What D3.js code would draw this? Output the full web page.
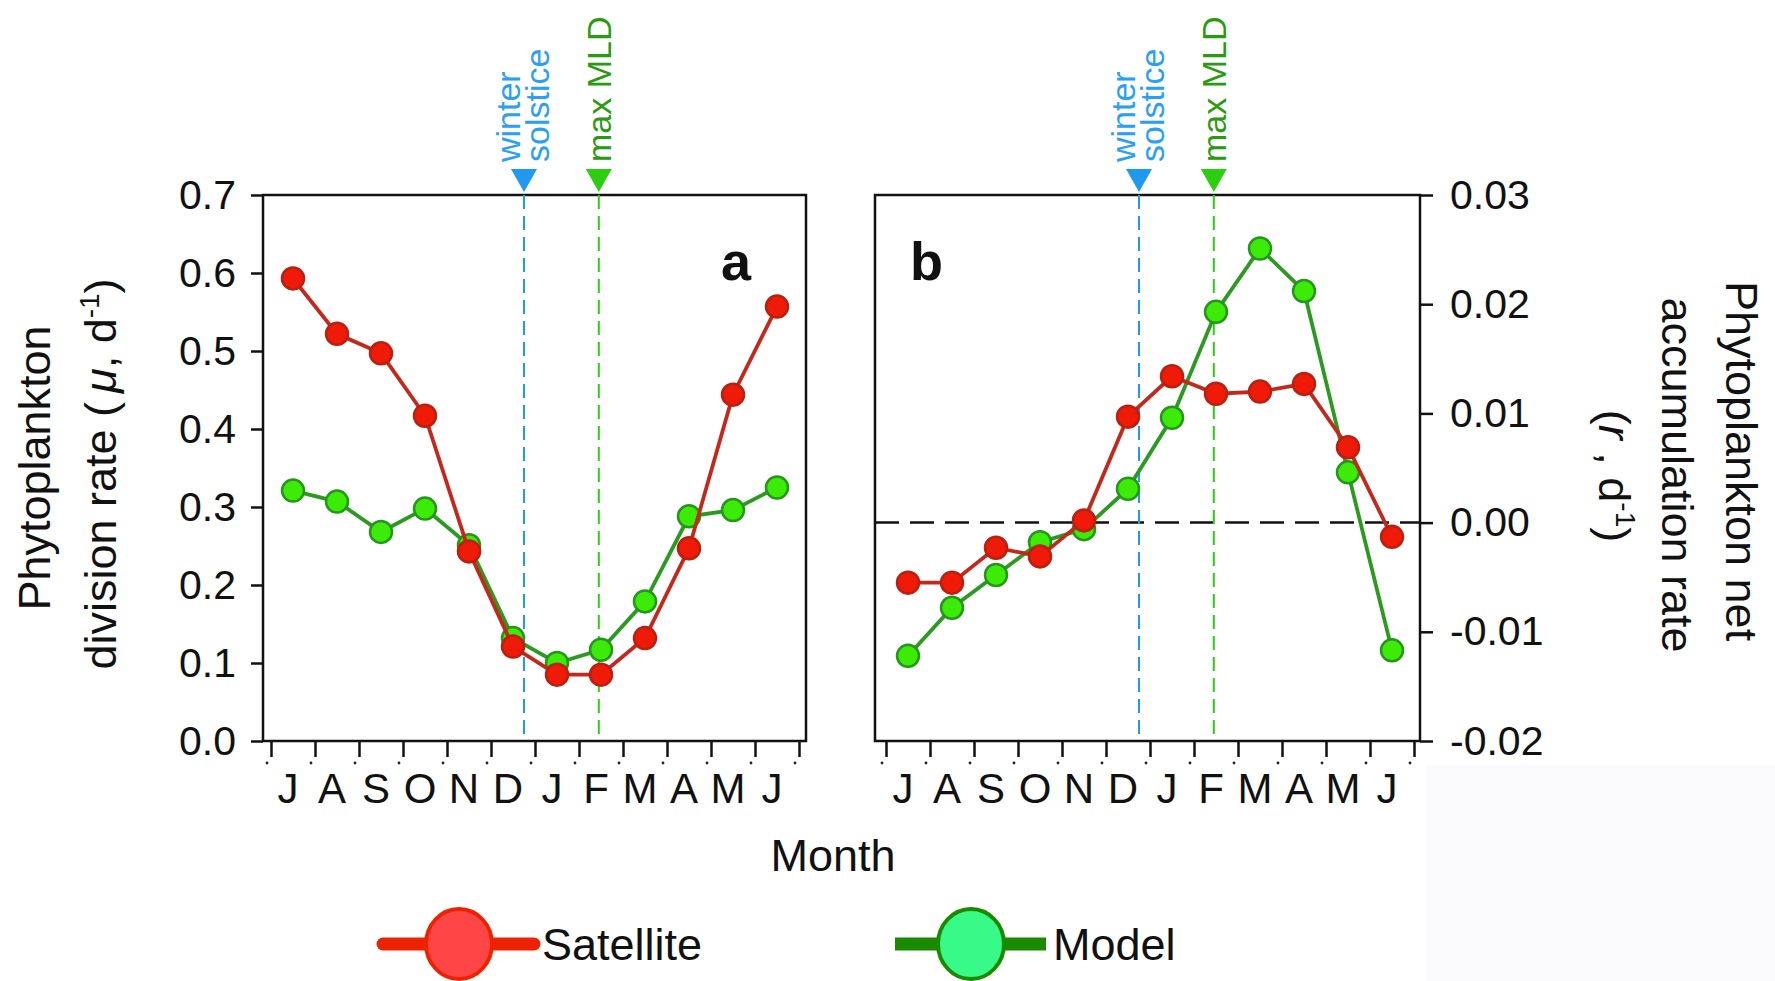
<!DOCTYPE html>
<html>
<head>
<meta charset="utf-8">
<script src="https://cdn.jsdelivr.net/npm/d3@7"></script>
<style>
  body { margin: 0; background: #fff; }
  svg { display: block; }
  text { font-family: "Liberation Sans", Arial, Helvetica, sans-serif; fill: #111; }
</style>
</head>
<body>
<svg id="chart" width="1775" height="981"></svg>
<script>
// ---- data -------------------------------------------------------------
const months = ["J", "A", "S", "O", "N", "D", "J", "F", "M", "A", "M", "J"];

// panel a: phytoplankton division rate (mu, d^-1)
const satelliteDivision = [0.593, 0.522, 0.497, 0.417, 0.243, 0.121, 0.085, 0.085, 0.132, 0.247, 0.444, 0.557];
const modelDivision     = [0.321, 0.307, 0.268, 0.298, 0.251, 0.132, 0.100, 0.117, 0.179, 0.288, 0.296, 0.325];

// panel b: phytoplankton net accumulation rate (r, d^-1)
const satelliteAccumulation = [-0.0055, -0.0055, -0.0023, -0.0031, 0.0002, 0.0097, 0.0134, 0.0118, 0.0120, 0.0127, 0.0069, -0.0013];
const modelAccumulation     = [-0.0122, -0.0078, -0.0048, -0.0018, -0.0006, 0.0031, 0.0096, 0.0193, 0.0251, 0.0212, 0.0046, -0.0117];

const divisionTicks = [0, 0.1, 0.2, 0.3, 0.4, 0.5, 0.6, 0.7];
const accumulationTicks = [-0.02, -0.01, 0, 0.01, 0.02, 0.03];

// seasonal events, in months since 1 July
const events = [
  { lines: ["winter", "solstice"], month: 5.75, color: "#1f9af0", text: "#2aa0f5" },
  { lines: ["max MLD"], month: 7.45, color: "#2ccf10", text: "#2a9a10" }
];

const seriesStyle = {
  satellite: { line: "#c4281c", fill: "#f01a08", stroke: "#b8200f" },
  model:     { line: "#2a9a20", fill: "#3cec08", stroke: "#24961a" }
};

// plain hyphen for negative tick values
const tickFormatter = spec => v => d3.format(spec)(v).replace("\u2212", "-");

// ---- drawing ----------------------------------------------------------
const svg = d3.select("#chart");

// faint backdrop in the lower right corner
svg.append("rect").attr("x", 1426).attr("y", 765).attr("width", 349).attr("height", 216)
  .attr("fill", "#fbfbfe");

function drawPanel(opt) {
  const g = svg.append("g");
  const f = opt.frame;
  const x = d3.scaleLinear().domain([0, 12]).range(opt.tickRange);
  const y = d3.scaleLinear().domain(opt.yDomain).range([f.bottom, f.top]);

  // month ticks along the bottom
  const xAxis = g.append("g").attr("transform", `translate(0,${f.bottom})`)
    .call(d3.axisBottom(x).tickValues(d3.range(13)).tickSize(16).tickFormat(""));
  xAxis.select(".domain").remove();
  xAxis.selectAll(".tick line").attr("stroke", "#111").attr("stroke-width", 2.5);

  // small dots beneath the month ticks
  g.selectAll(".tick-dot").data(d3.range(13)).join("circle")
    .attr("cx", d => x(d) - 4).attr("cy", 763).attr("r", 1.4).attr("fill", "#222");

  // month letters
  g.selectAll(".month").data(months).join("text")
    .attr("x", (d, i) => x(i + 0.5) - 5).attr("y", 803)
    .attr("text-anchor", "middle").attr("font-size", 42).text(d => d);

  // value axis
  const axisGen = opt.side === "left"
    ? d3.axisLeft(y).tickSize(12).tickPadding(15)
    : d3.axisRight(y).tickSize(13).tickPadding(17);
  axisGen.tickValues(opt.ticks).tickFormat(tickFormatter(opt.format));
  const yAxis = g.append("g")
    .attr("transform", `translate(${opt.side === "left" ? f.left : f.right},0)`)
    .call(axisGen);
  yAxis.select(".domain").remove();
  yAxis.selectAll(".tick line").attr("stroke", "#111").attr("stroke-width", 2.5);
  yAxis.selectAll(".tick text").attr("font-size", 41).attr("fill", "#111")
    .style("font-family", "'Liberation Sans', Arial, sans-serif");

  // frame
  g.append("rect").attr("x", f.left).attr("y", f.top)
    .attr("width", f.right - f.left).attr("height", f.bottom - f.top)
    .attr("fill", "none").attr("stroke", "#111").attr("stroke-width", 2.5);

  // zero reference
  if (opt.zeroLine) {
    g.append("line").attr("x1", f.left).attr("x2", f.right)
      .attr("y1", y(0)).attr("y2", y(0))
      .attr("stroke", "#111").attr("stroke-width", 2.5).attr("stroke-dasharray", "24,11");
  }

  // event markers
  events.forEach(ev => {
    const ex = x(ev.month);
    g.append("line").attr("x1", ex).attr("x2", ex).attr("y1", f.top).attr("y2", f.bottom)
      .attr("stroke", ev.color).attr("stroke-width", 2).attr("stroke-dasharray", "14,7");
    g.append("path")
      .attr("d", `M${ex - 13},${f.top - 26}L${ex + 13},${f.top - 26}L${ex},${f.top - 3}Z`)
      .attr("fill", ev.color);
    const n = ev.lines.length;
    ev.lines.forEach((t, k) => {
      const cx = ex + (k - (n - 1) / 2) * 29;
      g.append("text")
        .attr("transform", `translate(${cx + (n > 1 ? 10 : 12)},${f.top - 33}) rotate(-90)`)
        .attr("font-size", 34).attr("fill", ev.text).style("fill", ev.text)
        .text(t);
    });
  });

  // series: model underneath, satellite on top
  const line = d3.line().x((d, i) => x(i + 0.5)).y(d => y(d));
  [["model", opt.model], ["satellite", opt.satellite]].forEach(([key, vals]) => {
    const s = seriesStyle[key];
    g.append("path").datum(vals).attr("d", line)
      .attr("fill", "none").attr("stroke", s.line).attr("stroke-width", 3.8);
    g.selectAll(`.pt-${key}`).data(vals).join("circle")
      .attr("cx", (d, i) => x(i + 0.5)).attr("cy", d => y(d)).attr("r", 11)
      .attr("fill", s.fill).attr("stroke", s.stroke).attr("stroke-width", 2.5);
  });

  // panel letter
  g.append("text").attr("x", opt.letterX).attr("y", 280)
    .attr("font-size", 54).attr("font-weight", "bold").text(opt.letter);
}

drawPanel({
  frame: { left: 263, right: 806, top: 195, bottom: 741 },
  tickRange: [271, 799],
  yDomain: [0, 0.7], ticks: divisionTicks, format: ".1f", side: "left",
  satellite: satelliteDivision, model: modelDivision,
  letter: "a", letterX: 721, zeroLine: false
});

drawPanel({
  frame: { left: 875, right: 1420, top: 195, bottom: 741 },
  tickRange: [886, 1414],
  yDomain: [-0.02, 0.03], ticks: accumulationTicks, format: ".2f", side: "right",
  satellite: satelliteAccumulation, model: modelAccumulation,
  letter: "b", letterX: 910, zeroLine: true
});

// ---- axis titles ------------------------------------------------------
const leftTitle = svg.append("g");
leftTitle.append("text").attr("transform", "translate(50,468) rotate(-90)")
  .attr("text-anchor", "middle").attr("font-size", 45).text("Phytoplankton");
const lt2 = leftTitle.append("text").attr("transform", "translate(116,474) rotate(-90)")
  .attr("text-anchor", "middle").attr("font-size", 45);
lt2.append("tspan").text("division rate (\u2009");
lt2.append("tspan").attr("font-style", "italic").text("\u03BC");
lt2.append("tspan").text(", d");
lt2.append("tspan").attr("font-size", 28).attr("dy", -17).text("-1");
lt2.append("tspan").attr("dy", 17).text(")");

const rightTitle = svg.append("g");
rightTitle.append("text").attr("transform", "translate(1726,461) rotate(90)")
  .attr("text-anchor", "middle").attr("font-size", 45).text("Phytoplankton net");
rightTitle.append("text").attr("transform", "translate(1662,475) rotate(90)")
  .attr("text-anchor", "middle").attr("font-size", 45).text("accumulation rate");
const rt3 = rightTitle.append("text").attr("transform", "translate(1599,476) rotate(90)")
  .attr("text-anchor", "middle").attr("font-size", 45);
rt3.append("tspan").text("(");
rt3.append("tspan").attr("font-style", "italic").text("r");
rt3.append("tspan").text(" , d");
rt3.append("tspan").attr("font-size", 28).attr("dy", -17).text("-1");
rt3.append("tspan").attr("dy", 17).text(")");

svg.append("text").attr("x", 833).attr("y", 871).attr("text-anchor", "middle")
  .attr("font-size", 45).text("Month");

// ---- legend -----------------------------------------------------------
const legendItems = [
  { label: "Satellite", x0: 383, x1: 534, cx: 459, line: "#ee2200", fill: "#ff4646", stroke: "#ee2200", tx: 542, cap: "round" },
  { label: "Model", x0: 895, x1: 1046, cx: 971, line: "#1a8a00", fill: "#38fa88", stroke: "#1a8a00", tx: 1053, cap: "butt" }
];
const legend = svg.append("g");
legendItems.forEach(it => {
  legend.append("line").attr("x1", it.x0).attr("x2", it.x1).attr("y1", 944).attr("y2", 944)
    .attr("stroke", it.line).attr("stroke-width", 13).attr("stroke-linecap", it.cap);
  legend.append("ellipse").attr("cx", it.cx).attr("cy", 944).attr("rx", 33).attr("ry", 35)
    .attr("fill", it.fill).attr("stroke", it.stroke).attr("stroke-width", 4);
  legend.append("text").attr("x", it.tx).attr("y", 960).attr("font-size", 45).text(it.label);
});
</script>
</body>
</html>
